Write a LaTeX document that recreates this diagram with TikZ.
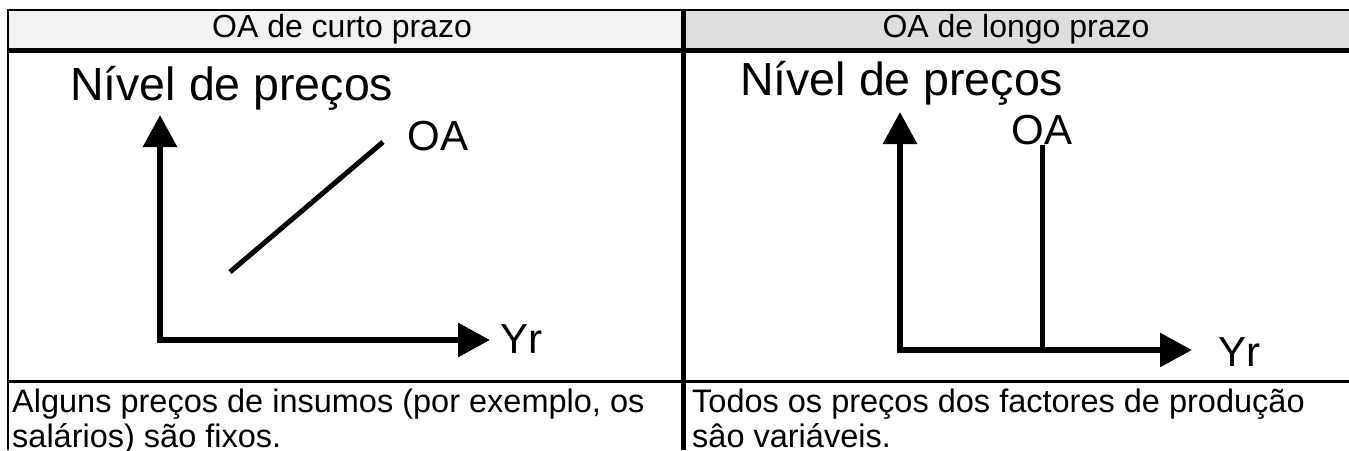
\documentclass[tikz,border=0pt]{standalone}
\usepackage{fontspec}
\setmainfont{Liberation Sans}
\usetikzlibrary{arrows.meta}
\definecolor{headleft}{HTML}{F2F2F2}
\definecolor{headright}{HTML}{DEDEDE}
\begin{document}
\begin{tikzpicture}[x=1pt,y=-1pt,
  axis/.style={line width=6pt,-{Triangle[length=32pt,width=33pt]}},
  oaline/.style={line width=5pt},
  title/.style={font=\fontsize{46.5}{50}\selectfont,inner sep=0pt,anchor=base west},
  label/.style={font=\fontsize{42}{46}\selectfont,inner sep=0pt},
  head/.style={font=\fontsize{32}{36}\selectfont,inner sep=0pt},
  note/.style={font=\fontsize{32.5}{35}\selectfont,inner sep=0pt,anchor=base west,
    align=left}]
  \useasboundingbox (0,0) rectangle (1349,450);
  % header cells
  \fill[headleft] (8,10) rectangle (681,48);
  \fill[headright] (686,10) rectangle (1349,48);
  \node[head] (hl) at (342,29) {OA de curto prazo};
  \node[head] (hr) at (1016,29) {OA de longo prazo};
  % grid
  \draw[line width=2pt] (7,10) -- (1349,10);
  \draw[line width=2pt] (8,9) -- (8,450);
  \draw[line width=5pt] (7,50.5) -- (1349,50.5);
  \draw[line width=5pt] (683.5,10) -- (683.5,450);
  \draw[line width=2.5pt] (7,381.5) -- (1349,381.5);

  % short run
  \coordinate (o1) at (160,340);
  \coordinate (y1) at (160,115);
  \coordinate (x1) at (490,340);
  \draw[axis] (o1) -- (y1);
  \draw[axis] ([xshift=-3pt]o1) -- (x1);
  \node[title] (p1) at (70,100) {Nível de preços};
  \node[label,anchor=west] (yr1) at (500,339) {Yr};
  \coordinate (s1) at (230,272);
  \coordinate (e1) at (383,142);
  \draw[oaline] (s1) -- (e1);
  \node[label] (oa1) at (438,136) {OA};

  % long run
  \coordinate (o2) at (900,350);
  \coordinate (y2) at (900,112);
  \coordinate (x2) at (1192,350);
  \draw[axis] (o2) -- (y2);
  \draw[axis] ([xshift=-3pt]o2) -- (x2);
  \node[title] (p2) at (740,95) {Nível de preços};
  \node[label,anchor=west] (yr2) at (1218,352) {Yr};
  \coordinate (s2) at (1042,350);
  \coordinate (e2) at (1042,145);
  \draw[oaline] (s2) -- (e2);
  \node[label] (oa2) at (1042,130) {OA};

  % notes
  \node[note] (n1) at (12,447) {Alguns preços de insumos (por exemplo, os\\salários) são fixos.};
  \node[note] (n2) at (692,447) {Todos os preços dos factores de produção\\sâo variáveis.};
\end{tikzpicture}
\end{document}
